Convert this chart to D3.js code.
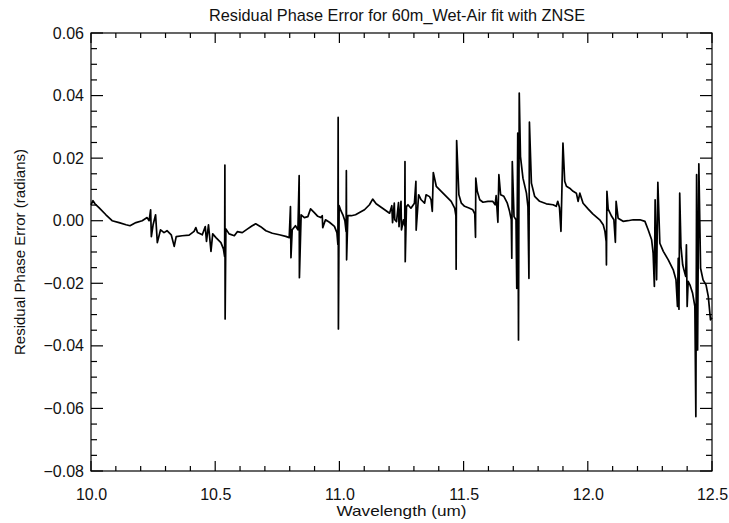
<!DOCTYPE html>
<html>
<head>
<meta charset="utf-8">
<script src="https://d3js.org/d3.v7.min.js"></script>
<style>
  body { margin: 0; background: #fff; overflow: hidden; }
  text { font-family: "Liberation Sans", "DejaVu Sans", sans-serif; fill: #111; }
  .axis path { display: none; }
</style>
</head>
<body>
<svg id="chart" width="729" height="523"></svg>
<script>
// wavelength (um) and residual phase error (radians)
var wavelength = [
  10.000,10.008,10.016,10.032,10.060,10.085,10.113,10.141,10.157,10.181,
  10.206,10.226,10.234,10.240,10.243,10.250,10.260,10.267,10.280,10.294,
  10.306,10.323,10.335,10.343,10.367,10.395,10.415,10.422,10.429,10.448,
  10.460,10.465,10.473,10.483,10.490,10.503,10.523,10.533,10.538,10.539,
  10.540,10.543,10.556,10.577,10.589,10.609,10.629,10.649,10.663,10.683,
  10.704,10.730,10.758,10.784,10.798,10.803,10.805,10.810,10.823,10.833,
  10.838,10.839,10.846,10.859,10.873,10.884,10.899,10.913,10.925,10.931,
  10.933,10.944,10.960,10.980,10.990,10.994,10.995,10.996,10.999,11.006,
  11.014,11.022,11.027,11.028,11.029,11.034,11.048,11.065,11.081,11.101,
  11.121,11.134,11.148,11.168,11.188,11.202,11.211,11.214,11.221,11.223,
  11.230,11.238,11.240,11.248,11.250,11.258,11.263,11.264,11.265,11.270,
  11.276,11.288,11.302,11.308,11.309,11.319,11.329,11.343,11.349,11.363,
  11.369,11.374,11.378,11.390,11.410,11.430,11.450,11.464,11.469,11.470,
  11.472,11.481,11.491,11.504,11.524,11.537,11.545,11.548,11.549,11.555,
  11.565,11.578,11.598,11.617,11.627,11.631,11.638,11.642,11.649,11.662,
  11.676,11.685,11.692,11.694,11.696,11.703,11.711,11.714,11.718,11.721,
  11.724,11.729,11.739,11.753,11.759,11.763,11.765,11.773,11.786,11.806,
  11.833,11.860,11.873,11.879,11.886,11.892,11.900,11.907,11.914,11.927,
  11.941,11.954,11.961,11.968,11.981,12.001,12.020,12.048,12.062,12.069,
  12.074,12.075,12.077,12.082,12.096,12.105,12.111,12.114,12.122,12.142,
  12.161,12.183,12.210,12.230,12.243,12.257,12.263,12.268,12.271,12.277,
  12.282,12.290,12.304,12.324,12.344,12.355,12.361,12.364,12.367,12.370,
  12.375,12.382,12.387,12.394,12.397,12.400,12.404,12.411,12.422,12.431,
  12.435,12.438,12.442,12.447,12.454,12.464,12.476,12.485,12.494,12.500
];

var phaseError = [
  0.0051,0.0064,0.0054,0.0042,0.0019,0.0000,-0.0006,-0.0013,-0.0016,-0.0006,
  0.0000,0.0010,0.0000,0.0035,-0.0051,-0.0013,0.0019,-0.0070,-0.0029,-0.0038,
  -0.0032,-0.0045,-0.0082,-0.0051,-0.0048,-0.0046,-0.0034,-0.0022,-0.0038,-0.0045,
  -0.0019,-0.0066,-0.0013,-0.0098,-0.0042,-0.0054,-0.0070,-0.0090,-0.0115,0.0178,
  -0.0314,-0.0026,-0.0042,-0.0048,-0.0035,-0.0038,-0.0027,-0.0016,-0.0010,-0.0019,
  -0.0032,-0.0040,-0.0045,-0.0050,-0.0054,0.0045,-0.0118,-0.0029,-0.0016,-0.0029,
  0.0144,-0.0182,0.0019,0.0010,0.0013,0.0038,0.0026,0.0014,0.0010,0.0016,
  -0.0022,0.0003,-0.0005,-0.0018,-0.0038,-0.0077,0.0330,-0.0346,0.0048,0.0032,
  0.0019,0.0000,-0.0035,0.0160,-0.0125,0.0016,0.0016,0.0019,0.0026,0.0035,
  0.0051,0.0069,0.0054,0.0043,0.0032,0.0024,0.0048,-0.0006,0.0056,0.0003,
  -0.0003,0.0058,-0.0019,0.0062,-0.0029,0.0003,-0.0016,0.0189,-0.0131,0.0045,
  0.0051,0.0040,0.0056,0.0126,-0.0030,0.0083,0.0067,0.0056,0.0083,0.0077,
  0.0067,0.0030,0.0154,0.0110,0.0094,0.0078,0.0062,0.0040,0.0016,-0.0155,
  0.0256,0.0083,0.0056,0.0046,0.0040,0.0035,0.0022,-0.0053,0.0136,0.0094,
  0.0067,0.0059,0.0062,0.0062,0.0051,0.0080,-0.0005,0.0147,0.0083,0.0078,
  0.0056,0.0030,0.0003,-0.0120,0.0189,0.0013,0.0003,-0.0216,0.0280,-0.0381,
  0.0408,0.0205,0.0136,0.0088,0.0045,-0.0184,0.0315,0.0120,0.0078,0.0062,
  0.0054,0.0051,0.0046,0.0062,0.0042,-0.0034,0.0248,0.0126,0.0110,0.0104,
  0.0094,0.0088,0.0062,0.0088,0.0056,0.0038,0.0022,0.0003,-0.0013,-0.0034,
  -0.0067,-0.0141,0.0094,0.0037,0.0014,0.0003,-0.0069,0.0062,0.0008,-0.0002,
  0.0000,0.0003,0.0003,-0.0002,-0.0029,-0.0061,-0.0104,-0.0210,0.0067,-0.0189,
  0.0123,-0.0072,-0.0098,-0.0125,-0.0157,-0.0189,-0.0274,-0.0120,-0.0283,0.0088,
  -0.0082,-0.0141,-0.0157,-0.0178,-0.0077,-0.0274,-0.0194,-0.0205,-0.0232,-0.0274,
  -0.0626,0.0147,-0.0413,0.0182,-0.0152,-0.0189,-0.0205,-0.0242,-0.0317,-0.0310
];

var xMajorTicks = [10.0, 10.5, 11.0, 11.5, 12.0, 12.5];
var yMajorTicks = [-0.08, -0.06, -0.04, -0.02, 0.00, 0.02, 0.04, 0.06];

var titleText = "Residual Phase Error for 60m_Wet-Air fit with ZNSE",
    xLabelText = "Wavelength (um)",
    yLabelText = "Residual Phase Error (radians)";

// plot box in pixels ("top" is a reserved window global, so prefix these)
var plotL = 91, plotR = 712, plotT = 33, plotB = 471;

var svg = d3.select("#chart");

var x = d3.scaleLinear().domain([10.0, 12.5]).range([plotL, plotR]),
    y = d3.scaleLinear().domain([-0.08, 0.06]).range([plotB, plotT]);

// every 0.1 um on x (major each 0.5), every 0.005 rad on y (major each 0.02)
var xTicks = d3.range(0, 26).map(function(i) { return { v: 10 + i / 10, major: i % 5 === 0 }; }),
    yTicks = d3.range(0, 29).map(function(i) { return { v: -0.08 + i * 0.005, major: i % 4 === 0 }; });

function fmtY(d) {
  return d3.format(".2f")(d).replace("-", "\u2212");
}

// tick labels through d3 axes (tick lines drawn separately below)
svg.append("g")
  .attr("class", "axis")
  .attr("transform", "translate(0," + plotB + ")")
  .call(d3.axisBottom(x).tickValues(xMajorTicks).tickSize(0).tickPadding(18).tickFormat(d3.format(".1f")));

svg.append("g")
  .attr("class", "axis")
  .attr("transform", "translate(" + plotL + ",0)")
  .call(d3.axisLeft(y).tickValues(yMajorTicks).tickSize(0).tickPadding(7).tickFormat(fmtY));

svg.selectAll(".axis text")
  .style("font-size", "16px")
  .style("fill", "#111");

var ticks = svg.append("g")
  .attr("stroke", "#000")
  .attr("stroke-width", 1.2);

// x ticks on bottom and top edges, pointing inward
[plotB, plotT].forEach(function(edge) {
  var dir = edge === plotB ? -1 : 1;
  ticks.selectAll(null).data(xTicks)
    .enter().append("line")
    .attr("x1", function(d) { return x(d.v); })
    .attr("x2", function(d) { return x(d.v); })
    .attr("y1", edge)
    .attr("y2", function(d) { return edge + dir * (d.major ? 10 : 5); });
});

// y ticks on left and right edges
[plotL, plotR].forEach(function(edge) {
  var dir = edge === plotL ? 1 : -1;
  ticks.selectAll(null).data(yTicks)
    .enter().append("line")
    .attr("y1", function(d) { return y(d.v); })
    .attr("y2", function(d) { return y(d.v); })
    .attr("x1", edge)
    .attr("x2", function(d) { return edge + dir * (d.major ? 12 : 6); });
});

svg.append("rect")
  .attr("x", plotL)
  .attr("y", plotT)
  .attr("width", plotR - plotL)
  .attr("height", plotB - plotT)
  .attr("fill", "none")
  .attr("stroke", "#000")
  .attr("stroke-width", 1.2);

// the residual trace
var pts = wavelength.map(function(w, i) { return [w, phaseError[i]]; });
var line = d3.line()
  .x(function(d) { return x(d[0]); })
  .y(function(d) { return y(d[1]); });

svg.append("path")
  .datum(pts)
  .attr("d", line)
  .attr("fill", "none")
  .attr("stroke", "#000")
  .attr("stroke-width", 1.7)
  .attr("stroke-linejoin", "round");

// title and axis labels
svg.append("text")
  .attr("x", 397)
  .attr("y", 21)
  .attr("text-anchor", "middle")
  .attr("textLength", 376)
  .attr("lengthAdjust", "spacingAndGlyphs")
  .style("font-size", "17px")
  .text(titleText);

svg.append("text")
  .attr("x", (plotL + plotR) / 2)
  .attr("y", 516)
  .attr("text-anchor", "middle")
  .attr("textLength", 130)
  .attr("lengthAdjust", "spacingAndGlyphs")
  .style("font-size", "15px")
  .text(xLabelText);

svg.append("text")
  .attr("transform", "translate(25," + (plotT + plotB) / 2 + ") rotate(-90)")
  .attr("text-anchor", "middle")
  .attr("textLength", 206)
  .attr("lengthAdjust", "spacingAndGlyphs")
  .style("font-size", "15px")
  .text(yLabelText);
</script>
</body>
</html>
